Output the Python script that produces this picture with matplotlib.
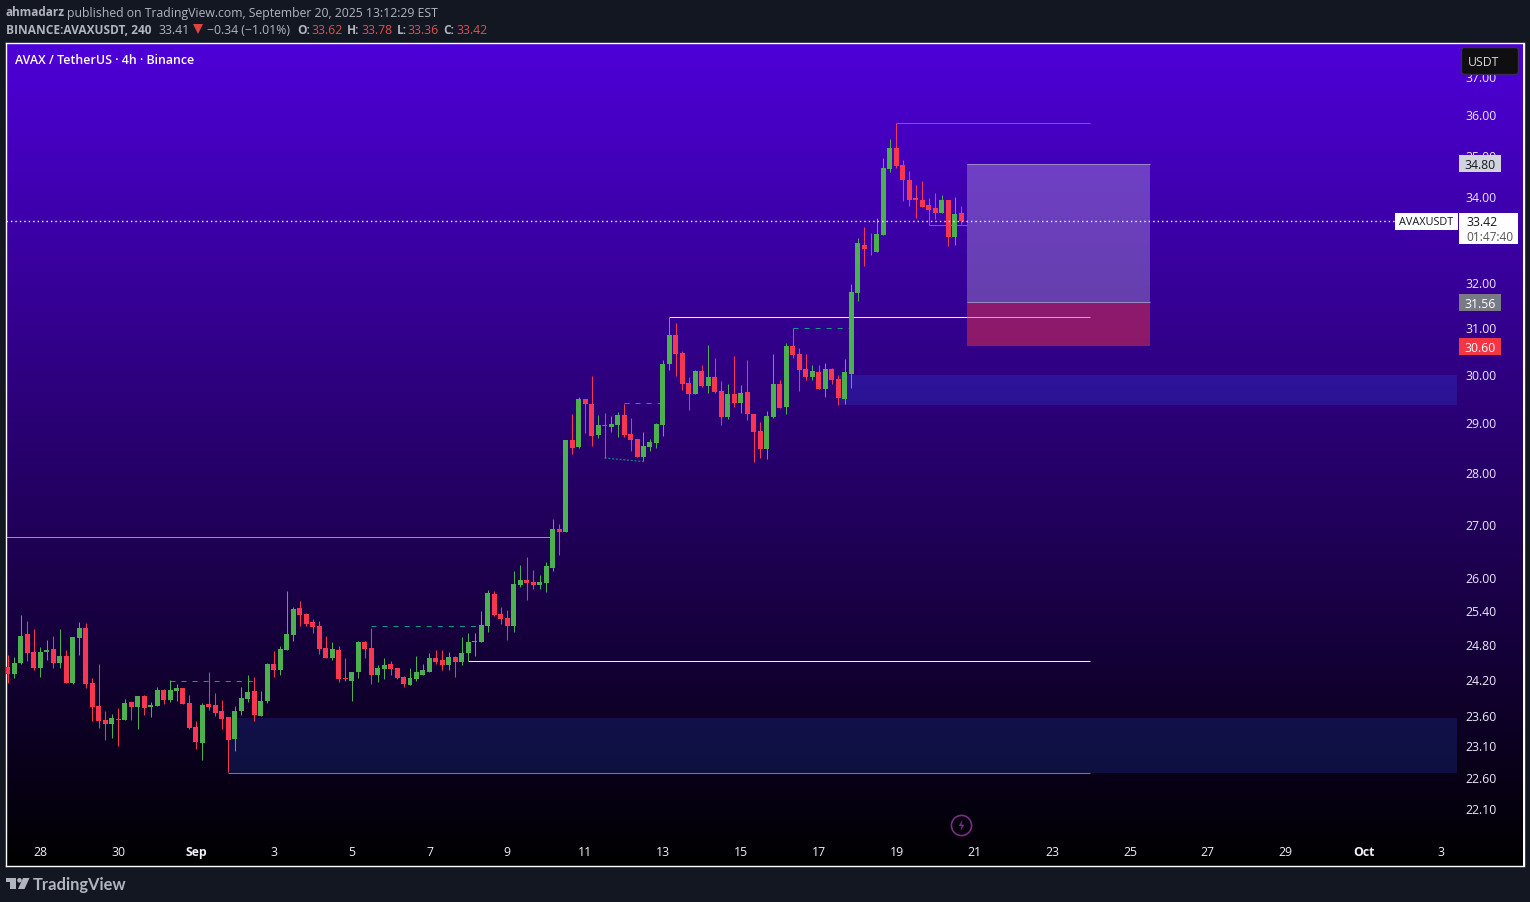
import numpy as np
import matplotlib
matplotlib.use('Agg')
import matplotlib.pyplot as plt
from matplotlib.patches import Rectangle, Polygon, FancyBboxPatch
from matplotlib.ticker import NullLocator
from matplotlib.path import Path
from matplotlib.transforms import ScaledTranslation

opens = [24.43,24.30,24.49,24.99,24.68,24.40,24.68,24.73,24.49,24.61,24.15,24.92,25.11,24.15,23.76,23.53,23.47,23.55,23.53,23.83,
23.75,23.93,23.75,23.76,24.03,23.86,24.02,24.07,23.81,23.42,23.16,23.80,23.78,23.68,23.58,23.22,23.68,23.88,24.02,23.60,
23.85,24.47,24.38,24.72,24.98,25.46,25.35,25.21,25.14,24.76,24.58,24.72,24.23,24.19,24.33,24.85,24.76,24.29,24.39,24.48,
24.41,24.26,24.12,24.21,24.29,24.34,24.57,24.55,24.46,24.60,24.51,24.67,24.86,24.86,25.14,25.71,25.35,25.28,25.14,25.87,
25.96,25.93,25.87,25.91,26.18,26.92,26.86,28.66,28.52,29.48,29.39,28.76,28.96,28.92,28.96,29.15,28.78,28.68,28.32,28.52,
28.60,28.96,30.23,30.85,30.46,29.83,29.60,30.08,29.75,29.95,29.66,29.11,29.60,29.41,29.64,29.17,28.84,28.46,29.11,29.80,
29.33,30.61,30.44,30.12,29.95,30.06,29.70,30.12,29.91,29.48,30.01,31.78,32.87,32.78,32.71,33.09,34.66,35.18,34.76,34.41,
33.96,33.93,33.79,33.72,33.62,33.91,33.04,33.62]
highs = [24.63,24.59,25.33,25.22,25.08,24.77,24.89,24.97,25.08,24.71,24.94,25.20,25.19,24.23,24.47,23.68,23.63,23.73,23.88,23.83,
23.93,23.95,23.83,24.08,24.05,24.20,24.13,24.07,23.95,23.52,23.81,24.33,23.98,23.86,23.58,23.76,24.09,24.28,24.25,24.02,
24.50,24.70,24.79,25.76,25.48,25.58,25.37,25.26,25.23,24.97,24.86,24.79,24.58,24.34,24.88,24.88,25.10,24.46,24.58,24.53,
24.41,24.27,24.41,24.62,24.48,24.67,24.72,24.72,24.69,24.62,24.95,25.02,25.02,25.41,25.78,25.76,25.48,25.42,26.13,26.24,
26.39,26.15,26.05,26.29,27.11,27.00,28.66,29.17,29.52,29.48,29.97,29.15,29.19,29.13,29.23,29.39,29.09,28.68,28.82,28.68,
29.00,30.31,31.25,31.11,30.51,29.95,30.10,30.21,30.63,30.35,29.87,29.80,30.39,29.78,30.30,29.17,29.02,29.25,30.44,29.89,
30.68,31.00,30.57,30.44,30.21,30.21,30.25,30.14,29.99,30.33,31.98,33.02,33.27,33.13,33.48,34.93,35.41,35.81,34.88,34.61,
34.29,34.37,33.96,34.08,34.03,33.93,34.00,33.78]
lows = [24.15,24.23,24.47,24.52,24.37,24.25,24.54,24.40,24.40,24.15,24.13,24.63,24.07,23.52,23.40,23.20,23.24,23.11,23.53,23.53,
23.38,23.62,23.58,23.76,23.80,23.83,23.85,23.80,23.38,23.06,22.87,23.70,23.60,23.38,22.69,23.03,23.62,23.83,23.52,23.60,
23.81,24.26,24.29,24.72,24.88,25.14,25.14,25.02,24.65,24.58,24.55,24.17,24.19,23.85,24.23,24.58,24.14,24.17,24.21,24.29,
24.21,24.09,24.12,24.19,24.29,24.33,24.48,24.38,24.38,24.26,24.46,24.53,24.62,24.86,25.04,25.32,25.18,24.90,25.04,25.83,
25.60,25.80,25.80,25.75,26.13,26.43,26.86,28.38,28.48,28.80,28.54,28.70,28.29,28.82,28.72,28.72,28.42,28.32,28.24,28.42,
28.50,28.74,30.10,29.97,29.68,29.27,29.60,29.73,29.62,29.62,28.96,29.07,29.33,29.21,29.05,28.22,28.30,28.28,29.09,29.31,
29.17,30.35,29.66,29.89,29.89,29.70,29.52,29.81,29.37,29.39,29.71,31.60,32.37,32.64,32.69,33.09,34.59,34.69,33.89,33.77,
33.48,33.74,33.32,33.46,33.62,32.83,32.87,33.36]
closes = [24.30,24.50,24.97,24.66,24.40,24.68,24.71,24.49,24.61,24.15,24.94,25.10,24.13,23.75,23.52,23.47,23.57,23.53,23.81,23.75,
23.93,23.73,23.78,24.03,23.86,24.03,24.07,23.80,23.40,23.17,23.78,23.75,23.65,23.55,23.20,23.68,23.90,24.00,23.62,23.85,
24.47,24.38,24.74,25.00,25.44,25.34,25.18,25.12,24.74,24.58,24.74,24.21,24.21,24.34,24.85,24.74,24.29,24.41,24.46,24.39,
24.24,24.14,24.23,24.33,24.38,24.57,24.51,24.46,24.60,24.51,24.67,24.86,24.88,25.16,25.73,25.34,25.26,25.14,25.89,25.96,
25.91,25.87,25.93,26.22,26.92,26.86,28.66,28.50,29.48,29.39,28.74,28.96,28.94,28.98,29.15,28.76,28.66,28.32,28.54,28.62,
28.98,30.23,30.85,30.44,29.81,29.60,30.08,29.75,29.95,29.64,29.11,29.60,29.41,29.62,29.17,28.82,28.46,29.13,29.80,29.31,
30.61,30.42,30.10,29.95,30.08,29.70,30.12,29.89,29.50,30.06,31.80,32.90,32.76,32.76,33.11,34.69,35.18,34.74,34.39,33.93,
33.93,33.74,33.69,33.62,33.91,33.04,33.58,33.42]

price_ticks = [37,36,35,34,32,31,30,29,28,27,26,25.4,24.8,24.2,23.6,23.1,22.6,22.1]
time_ticks = [5,17,29,41,53,65,77,89,101,113,125,137,149,161,173,185,197,209,221]
time_labels = ['28','30','Sep','3','5','7','9','11','13','15','17','19','21','23','25','27','29','Oct','3']

# drawings: (start bar, end bar, price)
solid_levels = [(137,166.8,35.80,'#5a5cf0'),(142,147.8,33.33,'#5a5cf0'),(102,166.8,31.24,'#f5efd0'),
                (71,166.8,24.52,'#f5efd0'),(-1,83.8,26.76,'#8f8fc4'),(34,166.8,22.67,'#3f8f9f')]
dashed_levels = [(25,38.4,24.19),(56,72.3,25.13),(95,100.7,29.40),(121,130,31.00)]
dotted_segment = ([92,98],[28.29,28.22])
zones = [(128.1,223.4,29.37,30.00,0.2),(34,223.4,22.67,23.56,0.17)]
position = dict(start=147.9,end=176.1,target=34.80,entry=31.56,stop=30.60)
last_price = 33.42

W,H = 1530,903
BG = '#131722'
fig = plt.figure(figsize=(W/100,H/100),dpi=100,facecolor=BG)
L,R,T,B = 6.5,1523.5,43.5,867
Y0 = 116.3
ax = fig.add_axes([L/W,(H-B)/H,(R-L)/W,(B-T)/H])
ax.set_yscale('log')
ymax = 36*np.exp((Y0-T)/1422); ymin = 36*np.exp((Y0-B)/1422)
x2i = lambda x: 5+(x-40.3)/6.486

grad = np.zeros((256,1,3))
t = np.linspace(0,1,256)[:,None]
grad[:,:,0]=(78/255)*(1-t); grad[:,:,1]=0; grad[:,:,2]=(216/255)*(1-t)
ax.imshow(grad,extent=(0,1,0,1),transform=ax.transAxes,aspect='auto',zorder=0,interpolation='bilinear')
ax.set_xlim(x2i(L),x2i(R)); ax.set_ylim(ymin,ymax)

for s in ax.spines.values():
    s.set_color('#ffffff'); s.set_linewidth(1)

FONT = ['Open Sans','DejaVu Sans']
# axes ticks
ax.yaxis.tick_right()
ax.set_yticks(price_ticks)
ax.set_yticklabels([f'{p:.2f}' for p in price_ticks],fontsize=8.8,color='#efe9fb',family=FONT,fontweight='medium')
ax.yaxis.set_minor_locator(NullLocator())
ax.tick_params(axis='y',which='major',length=0,pad=-41.5)
ax.set_xticks(time_ticks)
ax.set_xticklabels(time_labels,fontsize=8.8,color='#f2f2f2',family=FONT,fontweight='medium')
ax.tick_params(axis='x',length=0,pad=-15.4)
for lab,txt in zip(ax.get_xticklabels(),time_labels):
    if txt in('Sep','Oct'): lab.set_fontweight('bold')
up1 = ScaledTranslation(0,0.8/100,fig.dpi_scale_trans)
for tk in ax.yaxis.get_major_ticks():
    tk.label2.set_transform(tk.label2.get_transform()+up1)

# zones
for x0,x1,lo,hi,a in zones:
    ax.add_patch(Rectangle((x0,lo),x1-x0,hi-lo,fc='#2962ff',alpha=a,ec='none',zorder=1))
# levels
for x0,x1,p,c in solid_levels:
    ax.plot([x0,x1],[p,p],color=c,lw=0.75,zorder=2,solid_capstyle='butt',snap=True)
for x0,x1,p in dashed_levels:
    ax.plot([x0,x1],[p,p],color='#159a88',lw=0.75,dashes=(4.8,5.8),zorder=2,snap=True)
ax.plot(*dotted_segment,color='#1f6f8c',lw=1,dashes=(1.5,1.2),zorder=2)

# candles
o,h,l,c = map(np.array,(opens,highs,lows,closes))
idx = np.arange(len(o))
up = c>=o
GREEN,RED = '#4caf50','#f7374f'
cols = np.where(up,GREEN,RED)
ax.vlines(idx,l,h,colors=cols,lw=0.75,zorder=3)
ax.bar(idx,np.abs(c-o),bottom=np.minimum(o,c),width=0.77,color=cols,linewidth=0,zorder=3.1)

# position tool
p = position
ax.add_patch(Rectangle((p['start'],p['entry']),p['end']-p['start'],p['target']-p['entry'],fc='#d8d4e8',alpha=0.3,ec='none',zorder=3.2))
ax.add_patch(Rectangle((p['start'],p['stop']),p['end']-p['start'],p['entry']-p['stop'],fc='#f23645',alpha=0.47,ec='none',zorder=3.2))
for v in (p['target'],p['entry']):
    ax.plot([p['start'],p['end']],[v,v],color='#9a86c4',lw=0.75,zorder=3.3,snap=True,solid_capstyle='butt')

# last price dotted
ax.plot([x2i(L),x2i(1395)],[last_price,last_price],color='#ffffff',lw=1,dashes=(1,2.2),zorder=3.4,snap=True)

# price labels
ytr = ax.get_yaxis_transform()
fx = lambda x: (x-L)/(R-L)
dn1 = ScaledTranslation(0,-1.0/100,fig.dpi_scale_trans)
for pr,txt,fc,tc in [(34.80,'34.80','#d1d4dc','#131722'),(31.56,'31.56','#787b86','#ffffff'),(30.60,'30.60','#f23645','#ffffff')]:
    k = np.exp(8.5/1422)
    ax.add_patch(Rectangle((fx(1458.5),pr/k),fx(1501)-fx(1458.5),pr*k-pr/k,transform=ytr,fc=fc,ec='none',zorder=5))
    ax.text(fx(1480),pr,txt,transform=ytr+dn1,ha='center',va='center',fontsize=8.8,color=tc,family=FONT,fontweight='medium',zorder=6)
# last price label
ka,kb = np.exp(8/1422),np.exp(22.8/1422)
ax.add_patch(Rectangle((fx(1458.5),last_price/kb),fx(1518)-fx(1458.5),last_price*ka-last_price/kb,transform=ytr,fc='#ffffff',ec='none',zorder=5))
ax.text(fx(1466),last_price,'33.42',transform=ytr,ha='left',va='center',fontsize=8.8,color='#131722',family=FONT,zorder=6)
ax.text(fx(1466),last_price/np.exp(15/1422),'01:47:40',transform=ytr,ha='left',va='center',fontsize=8.6,color='#555555',family=FONT,zorder=6)
k9 = np.exp(9/1422)
ax.add_patch(Rectangle((fx(1395),last_price/k9),fx(1457.5)-fx(1395),last_price*ka-last_price/k9,transform=ytr,fc='#ffffff',ec='none',zorder=5))
ax.text(fx(1426.5),last_price,'AVAXUSDT',transform=ytr,ha='center',va='center',fontsize=7.8,color='#131722',family=FONT,zorder=6)

# replay icon
bolt = Path([(0.15,1),(-0.5,-0.1),(-0.02,-0.1),(-0.15,-1),(0.5,0.15),(0.02,0.15),(0.15,1)],closed=True)
ax.plot([147],[21.86],marker='o',ms=14.5,mfc='none',mec='#7b2d86',mew=1.2,zorder=4)
ax.plot([147],[21.86],marker=bolt,ms=8,mfc='#7b2d86',mec='none',zorder=4)

# overlay: header/footer chrome in pixels
ov = fig.add_axes([0,0,1,1],facecolor='none')
ov.set_xlim(0,W); ov.set_ylim(H,0); ov.axis('off')
ov.add_patch(FancyBboxPatch((1461.5,48.5),57,27,boxstyle='round,pad=0,rounding_size=3',fc='#0f0f12',ec='#3a2a5c',lw=1))
ov.text(1484,62,'USDT',ha='center',va='center',fontsize=8.8,color='#d8d8d8',family=FONT)
ov.text(15,61,'AVAX / TetherUS · 4h · Binance',ha='left',va='center',fontsize=8.95,color='#ffffff',family=FONT,fontweight='semibold')

def t1(x,y,s,c='#b2b5be',w='normal',fs=8.85):
    ov.text(x,y,s,ha='left',va='center',fontsize=fs,color=c,family=FONT,fontweight=w)
t1(6,13,'ahmadarz',w='bold',fs=8.5)
t1(67,13,'published on TradingView.com, September 20, 2025 13:12:29 EST')
t1(6,30,'BINANCE:AVAXUSDT, 240',w='bold',fs=8.6)
t1(158,30,'33.41')
ov.add_patch(Polygon([(193,25),(203,25),(198,35)],fc='#e2433f',ec='none'))
t1(207,30,'−0.34 (−1.01%)')
RC = '#e0504c'
for x,s in [(297,'O:'),(347,'H:'),(397,'L:'),(443,'C:')]:
    t1(x,30,s,w='bold',fs=8.6)
for x,s in [(311,'33.62'),(361,'33.78'),(407,'33.36'),(456,'33.42')]:
    t1(x,30,s,c=RC)

LOGO='#b2b5be'
ov.add_patch(Polygon([(6,879),(16.5,879),(16.5,890),(10.5,890),(10.5,883.5),(6,883.5)],fc=LOGO,ec='none'))
ov.add_patch(plt.Circle((19.5,881.3),2.3,fc=LOGO,ec='none'))
ov.add_patch(Polygon([(23,879),(29.5,879),(24.5,890),(18,890)],fc=LOGO,ec='none'))
ov.text(33,885,'TradingView',ha='left',va='center',fontsize=11.9,color=LOGO,family=['Lato','DejaVu Sans'],fontweight='bold')

fig.savefig('out.png',dpi=100,facecolor=BG)
